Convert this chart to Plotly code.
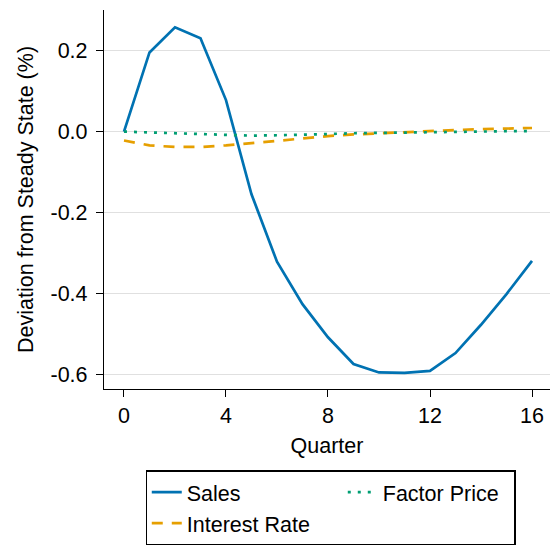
import plotly.graph_objects as go

quarters = list(range(17))
sales = [0.0, 0.196, 0.258, 0.231, 0.078, -0.155, -0.322, -0.427, -0.509, -0.575,
         -0.596, -0.597, -0.592, -0.548, -0.478, -0.402, -0.320]
interest_rate = [-0.022, -0.034, -0.038, -0.038, -0.034, -0.029, -0.023, -0.017, -0.011,
                 -0.007, -0.004, -0.001, 0.002, 0.004, 0.006, 0.008, 0.009]
factor_price = [0.0, -0.002, -0.004, -0.006, -0.009, -0.010, -0.009, -0.008, -0.006,
                -0.004, -0.003, -0.002, -0.001, 0.0, 0.0, 0.001, 0.001]

x_ticks = [0, 4, 8, 12, 16]
y_ticks = [0.2, 0.0, -0.2, -0.4, -0.6]
y_tick_text = ["0.2", "0.0", "-0.2", "-0.4", "-0.6"]

FONT = "Liberation Sans, Arial, Helvetica, sans-serif"
FS = 21.5

fig = go.Figure()
fig.add_trace(go.Scatter(x=quarters, y=sales, mode="lines", name="Sales",
                         line=dict(color="#0072B2", width=2.7),
                         legendrank=1, legendwidth=151))
fig.add_trace(go.Scatter(x=quarters, y=interest_rate, mode="lines", name="Interest Rate",
                         line=dict(color="#E69F00", width=2.7, dash="11px,9px"),
                         legendrank=3, legendwidth=130))
fig.add_trace(go.Scatter(x=quarters, y=factor_price, mode="lines", name="Factor Price",
                         line=dict(color="#009E73", width=2.7, dash="3px,7px"),
                         legendrank=2, legendwidth=126))

fig.update_layout(
    width=550, height=548,
    margin=dict(l=104, r=0, t=10, b=159, autoexpand=False),
    paper_bgcolor="white", plot_bgcolor="white",
    font=dict(family=FONT, size=FS, color="black"),
    showlegend=True,
    legend=dict(orientation="h", x=0.508, xanchor="center", y=-0.215, yanchor="top",
                bordercolor="black", borderwidth=1.2, bgcolor="white",
                font=dict(family=FONT, size=FS, color="black"),
                itemwidth=30, traceorder="normal"),
)
fig.update_xaxes(
    range=[-0.784, 16.706], tickmode="array", tickvals=x_ticks,
    ticktext=[str(v) for v in x_ticks],
    showgrid=False, zeroline=False,
    showline=True, linecolor="black", linewidth=1.3,
    ticks="outside", ticklen=7, tickwidth=1.3, tickcolor="black",
    title=dict(text="Quarter", font=dict(family=FONT, size=FS), standoff=10),
)
fig.update_yaxes(
    range=[-0.637, 0.301], tickmode="array", tickvals=y_ticks, ticktext=y_tick_text,
    showgrid=True, gridcolor="rgba(0,0,0,0.12)", gridwidth=1.3, zeroline=False,
    showline=True, linecolor="black", linewidth=1.3,
    ticks="outside", ticklen=7, tickwidth=1.3, tickcolor="black",
    ticklabelstandoff=4,
    title=dict(text="Deviation from Steady State (%)", font=dict(family=FONT, size=FS), standoff=10),
)

fig.write_html("out.html", config={"displayModeBar": False},
               post_script="document.body.style.margin='0';document.body.style.overflow='hidden';")
